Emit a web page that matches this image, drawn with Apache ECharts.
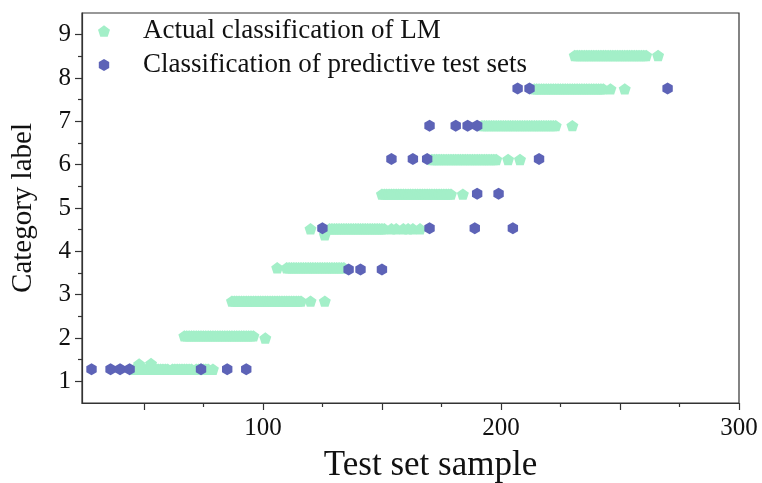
<!DOCTYPE html>
<html>
<head>
<meta charset="utf-8">
<script src="https://cdn.jsdelivr.net/npm/echarts@6/dist/echarts.min.js"></script>
<style>
html,body{margin:0;padding:0;background:#fff;}
#chart{width:762px;height:483px;}
</style>
</head>
<body>
<div id="chart"></div>
<script>
// ---- data ----
const lmLevels = [1.28, 2.05, 2.85, 3.62, 4.52, 5.32, 6.12, 6.90, 7.75, 8.52];
const lmClass1 = [46,47,48,49,50,51,52,53,54,55,56,57,58,59,60,62,63,64,65,66,67,68,69,70,72,73,74,75,76,77,79];
const lmClass2 = [67,68,69,70,71,72,73,74,75,76,77,78,79,80,81,82,83,84,85,86,87,88,89,90,91,92,93,94,95,96];
const lmClass3 = [87,88,89,90,91,92,93,94,95,96,97,98,99,100,101,102,103,104,105,106,107,108,109,110,111,112,113,114,115,116,120,126];
const lmClass4 = [106,110,111,112,113,114,115,116,117,118,119,120,121,122,123,124,125,126,127,128,129,130,131,132,133,134];
const lmClass5 = [120,128,129,130,131,132,133,134,135,136,137,138,139,140,141,142,143,144,145,146,147,148,149,150,151,154,156,159,161,163,166];
const lmClass6 = [150,151,152,153,154,155,156,157,158,159,160,161,162,163,164,165,166,167,168,169,170,171,172,173,174,175,176,177,178,179,184];
const lmClass7 = [171,172,173,174,175,176,177,178,179,180,181,182,183,184,185,186,187,188,189,190,191,192,193,194,195,196,197,198,203,208];
const lmClass8 = [192,193,194,195,196,197,198,199,200,201,202,203,204,205,206,207,208,209,210,211,212,213,214,215,216,217,218,219,220,221,222,223,230];
const lmClass9 = [214,215,216,217,218,219,220,221,222,223,224,225,226,227,228,229,230,231,232,233,234,235,236,237,238,239,240,241,242,243,246,252];
const lmClass10 = [231,232,233,234,235,236,237,238,239,240,241,242,243,244,245,246,247,248,249,250,251,252,253,254,255,256,257,258,259,260,261,266];
const lmExtraX = [48, 53, 126, 101];
const lmExtraY = [1.40, 1.41, 4.38, 2.00];

const predX = [28,36,40,44,74,85,93, 136,141,150, 125,170,189,205, 190,199, 154,163,169,216, 170,181,186,190, 207,212,270];
const predY = [1.28,1.28,1.28,1.28,1.28,1.28,1.28, 3.58,3.58,3.58, 4.53,4.53,4.53,4.53, 5.33,5.33, 6.13,6.13,6.13,6.13, 6.90,6.90,6.90,6.90, 7.76,7.76,7.76];

const xMajorTicks = [50,100,150,200,250,300];
const xMinorTicks = [75,125,175,225,275];
const xTickLabels = [100,200,300];
const yMajorTicks = [1,2,3,4,5,6,7,8,9];
const yMinorTicks = [1.5,2.5,3.5,4.5,5.5,6.5,7.5,8.5];

// ---- build ----
const lmClasses = [lmClass1,lmClass2,lmClass3,lmClass4,lmClass5,lmClass6,lmClass7,lmClass8,lmClass9,lmClass10];
const lmData = [];
lmClasses.forEach((arr, i) => arr.forEach(x => lmData.push([x, lmLevels[i]])));
lmExtraX.forEach((x, i) => lmData.push([x, lmExtraY[i]]));
const predData = predX.map((x, i) => [x, predY[i]]);

const FONT = '"Liberation Serif", "Times New Roman", serif';
const AX = '#333';
const pentagon = 'path://M0,-1 L0.951,-0.309 L0.588,0.809 L-0.588,0.809 L-0.951,-0.309 Z';
const hexagon = 'path://M0,-1 L0.866,-0.5 L0.866,0.5 L0,1 L-0.866,0.5 L-0.866,-0.5 Z';

const chart = echarts.init(document.getElementById('chart'), null, {renderer: 'canvas'});
chart.setOption({
  animation: false,
  backgroundColor: '#fff',
  grid: {left: 82, right: 23, top: 13, bottom: 80, containLabel: false, outerBoundsMode: 'none',
         show: true, borderColor: AX, borderWidth: 1.2, backgroundColor: 'transparent'},
  legend: {
    orient: 'vertical', left: 98, top: 16, padding: 0,
    itemWidth: 12, itemHeight: 12, itemGap: 4,
    textStyle: {fontFamily: FONT, fontSize: 27, color: '#111', lineHeight: 30, padding: [0,0,0,28]},
    data: ['Actual classification of LM', 'Classification of predictive test sets']
  },
  xAxis: [
    {
      type: 'value', min: 24, max: 300,
      axisLine: {show: true, lineStyle: {color: AX, width: 1.2}},
      axisTick: {show: true, customValues: xMajorTicks, length: 7, lineStyle: {color: AX, width: 1.2}},
      axisLabel: {customValues: xTickLabels, fontFamily: FONT, fontSize: 25, color: '#111', margin: 13},
      splitLine: {show: false},
      name: 'Test set sample', nameLocation: 'middle', nameGap: 45,
      nameTextStyle: {fontFamily: FONT, fontSize: 35, color: '#111', padding: [0,0,0,40]}
    },
    {
      type: 'value', min: 24, max: 300, position: 'bottom',
      axisLine: {show: false},
      axisTick: {show: true, customValues: xMinorTicks, length: 4, lineStyle: {color: AX, width: 1.2}},
      axisLabel: {show: false},
      splitLine: {show: false}
    }
  ],
  yAxis: [
    {
      type: 'value', min: 0.5, max: 9.5,
      axisLine: {show: true, lineStyle: {color: AX, width: 1.2}},
      axisTick: {show: true, customValues: yMajorTicks, length: 7, lineStyle: {color: AX, width: 1.2}},
      axisLabel: {customValues: yMajorTicks, fontFamily: FONT, fontSize: 25, color: '#111', margin: 11},
      splitLine: {show: false},
      name: 'Category label', nameLocation: 'middle', nameGap: 44,
      nameTextStyle: {fontFamily: FONT, fontSize: 29, color: '#111'}
    },
    {
      type: 'value', min: 0.5, max: 9.5, position: 'left',
      axisLine: {show: false},
      axisTick: {show: true, customValues: yMinorTicks, length: 4, lineStyle: {color: AX, width: 1.2}},
      axisLabel: {show: false},
      splitLine: {show: false}
    }
  ],
  series: [
    {
      name: 'Actual classification of LM', type: 'scatter',
      symbol: pentagon, symbolSize: 12, symbolKeepAspect: true,
      itemStyle: {color: '#A3EFC8', opacity: 1},
      data: lmData
    },
    {
      name: 'Classification of predictive test sets', type: 'scatter',
      symbol: hexagon, symbolSize: 12, symbolKeepAspect: true,
      itemStyle: {color: '#5D63B7', opacity: 1},
      data: predData
    }
  ]
});
</script>
</body>
</html>
